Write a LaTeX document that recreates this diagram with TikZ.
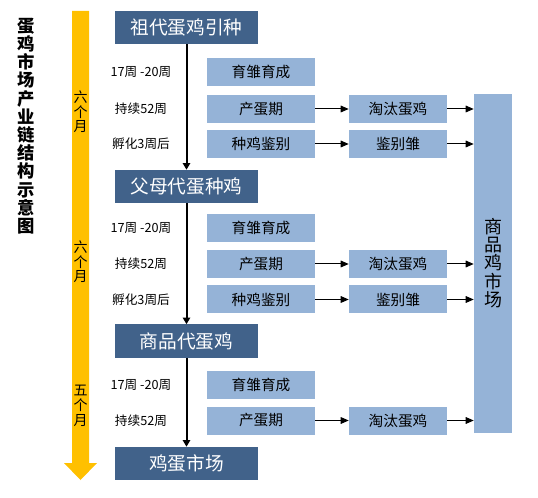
\documentclass[tikz,border=0pt]{standalone}
\usepackage{fontspec}
\setmainfont{Noto Sans CJK SC}
\usetikzlibrary{arrows.meta}
\definecolor{darkb}{HTML}{41628A}
\definecolor{lightb}{HTML}{95B3D7}
\definecolor{gold}{HTML}{FFC000}
\tikzset{
  dark/.style={fill=darkb, text=white, minimum width=107.25pt, minimum height=24.75pt, inner sep=0pt, font=\fontsize{14}{16}\selectfont},
  light/.style={fill=lightb, text=black, minimum width=81pt, minimum height=21pt, inner sep=0pt, font=\fontsize{11}{13}\selectfont},
  lighttwo/.style={light, minimum width=73.5pt},
  lbl/.style={font=\fontsize{9.5}{11}\selectfont, inner sep=0pt},
  vflow/.style={line width=1.5pt, -{Triangle[length=5pt,width=5.5pt]}},
  hflow/.style={line width=0.75pt, -{Triangle[length=6pt,width=5pt]}},
  vlab/.style={align=center, inner sep=0pt, font=\fontsize{10.5}{11}\selectfont}
}
\begin{document}
\begin{tikzpicture}[x=0.75pt,y=-0.75pt]
\path[use as bounding box] (0,0) rectangle (538,498);
% yellow timeline arrow
\fill[gold] (72,11) -- (89,11) -- (89,463) -- (97,463) -- (80.5,480) -- (64,463) -- (72,463) -- cycle;
\node[vlab] (m1) at (80.5,112) {六\\个\\月};
\node[vlab] (m2) at (80.5,262) {六\\个\\月};
\node[vlab] (m3) at (80.5,406) {五\\个\\月};
% title
\node[align=center, inner sep=0pt, font=\bfseries\fontsize{13}{13.65}\selectfont] (title) at (26,126) {蛋\\鸡\\市\\场\\产\\业\\链\\结\\构\\示\\意\\图};
% main stages
\node[dark] (d1) at (186.5,27.5) {祖代蛋鸡引种};
\node[dark] (d2) at (186.5,186.5) {父母代蛋种鸡};
\node[dark] (d3) at (186.5,341) {商品代蛋鸡};
\node[dark] (d4) at (186.5,463.5) {鸡蛋市场};
\draw[vflow] (d1.south) -- (d2.north);
\draw[vflow] (d2.south) -- (d3.north);
\draw[vflow] (d3.south) -- (d4.north);
% big market box
\node[fill=lightb, minimum width=28.5pt, minimum height=254.25pt, inner sep=0pt] (big) at (493,263.5) {};
\node[align=center, inner sep=0pt, font=\fontsize{13.5}{13.8}\selectfont] (bigt) at (493,263) {商\\品\\鸡\\市\\场};
% group 1
\node[lbl] (l11) at (141,72) {17周 -20周};
\node[lbl] (l12) at (141,109) {持续52周};
\node[lbl] (l13) at (141,144) {孵化3周后};
\node[light] (a11) at (261,72) {育雏育成};
\node[light] (a12) at (261,109) {产蛋期};
\node[light] (a13) at (261,144) {种鸡鉴别};
\node[lighttwo] (b12) at (398,109) {淘汰蛋鸡};
\node[lighttwo] (b13) at (398,144) {鉴别雏};
% group 2
\node[lbl] (l21) at (141,228) {17周 -20周};
\node[lbl] (l22) at (141,264) {持续52周};
\node[lbl] (l23) at (141,299.5) {孵化3周后};
\node[light] (a21) at (261,228) {育雏育成};
\node[light] (a22) at (261,264) {产蛋期};
\node[light] (a23) at (261,299.5) {种鸡鉴别};
\node[lighttwo] (b22) at (398,264) {淘汰蛋鸡};
\node[lighttwo] (b23) at (398,299.5) {鉴别雏};
% group 3
\node[lbl] (l31) at (141,385) {17周 -20周};
\node[lbl] (l32) at (141,420.5) {持续52周};
\node[light] (a31) at (261,385) {育雏育成};
\node[light] (a32) at (261,420.5) {产蛋期};
\node[lighttwo] (b32) at (398,420.5) {淘汰蛋鸡};
% horizontal arrows
\foreach \s/\t in {a12/b12,a13/b13,a22/b22,a23/b23,a32/b32}{
  \draw[hflow] (\s.east) -- (\t.west);
  \draw[hflow] (\t.east) -- (\t.east -| big.west);
}
\end{tikzpicture}
\end{document}
